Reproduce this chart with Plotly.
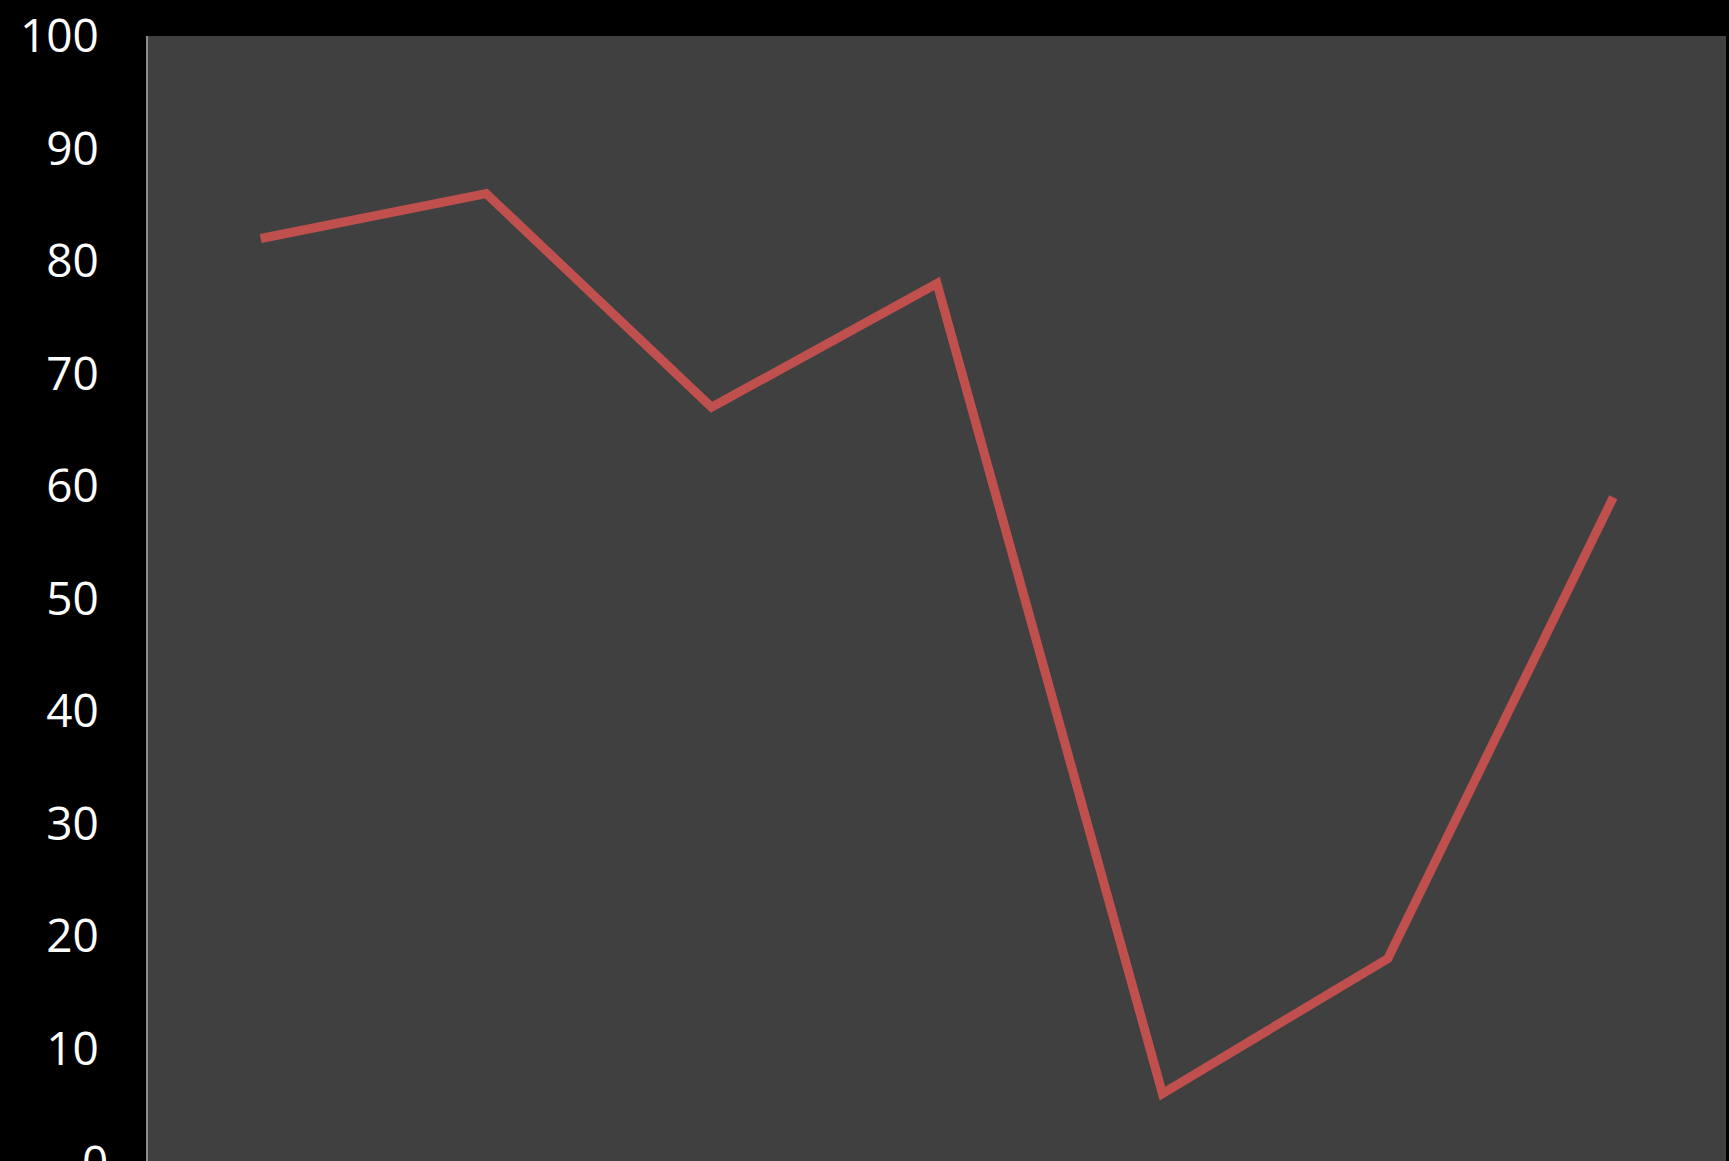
import plotly.graph_objects as go

categories = ["1", "2", "3", "4", "5", "6", "7"]
values = [82, 86, 67, 78, 6, 18, 59]
y_ticks = [0, 10, 20, 30, 40, 50, 60, 70, 80, 90, 100]

fig = go.Figure()
fig.add_trace(go.Scatter(
    x=categories, y=values, mode="lines",
    line=dict(color="#C0504D", width=9),
    hoverinfo="skip",
))

fig.update_layout(
    width=1729, height=1161,
    margin=dict(l=148, r=3, t=36, b=0),
    paper_bgcolor="#000000",
    plot_bgcolor="#404040",
    showlegend=False,
    font=dict(family="Open Sans", color="#ffffff", size=46),
)
fig.update_xaxes(
    type="category", range=[-0.5, 6.5], showgrid=False, showticklabels=False,
    zeroline=False, showline=False, ticks="",
)
fig.update_yaxes(
    range=[0, 100], tickvals=y_ticks, showgrid=False, zeroline=False,
    showline=True, linecolor="#8c8c8c", linewidth=2,
    ticks="", ticklabelstandoff=38,
    tickfont=dict(family="Open Sans", color="#ffffff", size=46),
)
# lowest tick label sits on the plot's bottom edge and is cut by the page
fig.add_annotation(
    text=str(y_ticks[0]), xref="paper", x=0, yref="y", y=y_ticks[0],
    xanchor="right", yanchor="middle", xshift=-38, showarrow=False,
    font=dict(family="Open Sans", color="#ffffff", size=46),
)

fig.write_html("out.html")
